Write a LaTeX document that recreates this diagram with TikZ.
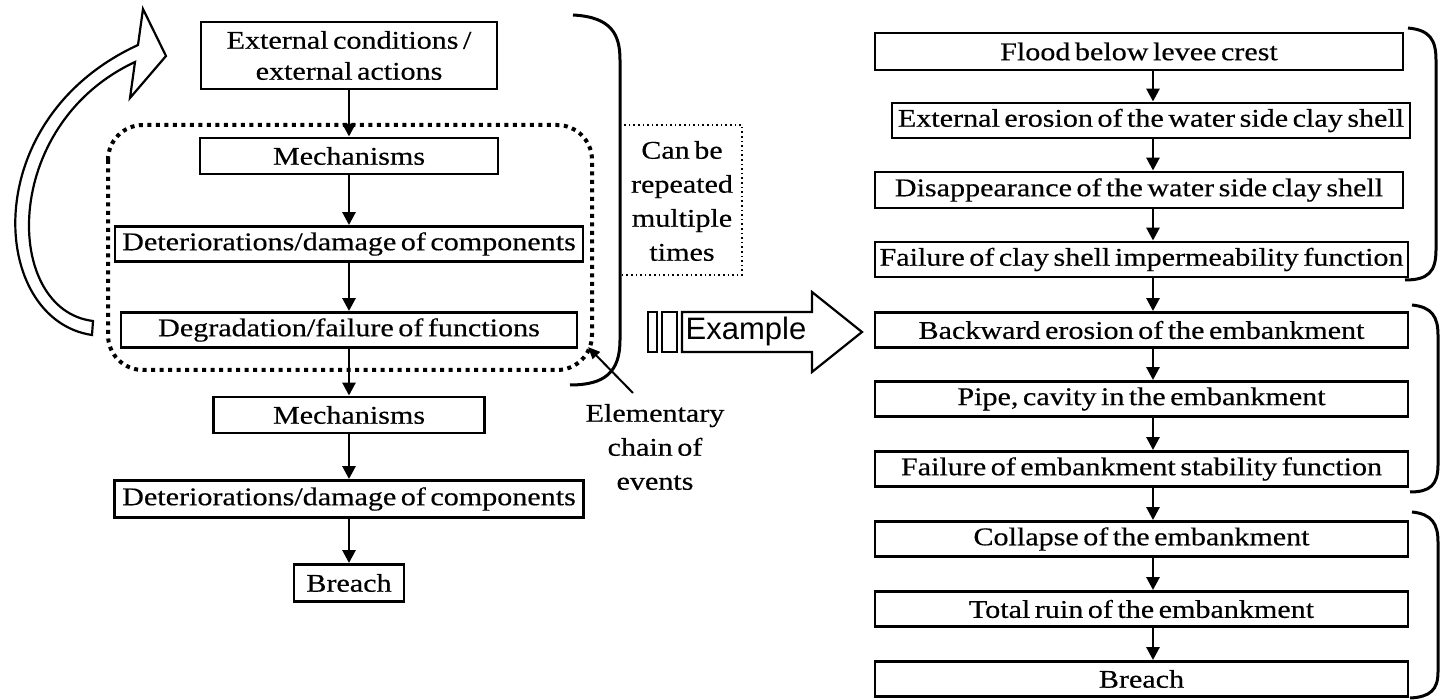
\documentclass[tikz,border=0pt]{standalone}
\usepackage{fontspec}
\setmainfont{Liberation Serif}[FakeStretch=1.18,WordSpace=0.6,FakeBold=0.4]
\newfontfamily\exfont{Liberation Sans}
\usetikzlibrary{arrows.meta}
\begin{document}
\begin{tikzpicture}[x=1pt,y=-1pt,
  box/.style={draw,line width=2.9pt,inner sep=0pt,font=\fontsize{25.5}{31}\selectfont,align=center},
  lbl/.style={inner sep=0pt,font=\fontsize{25.5}{34}\selectfont,align=center},
  arr/.style={line width=2.8pt,-{Triangle[length=13pt,width=13pt]}},
  thinarr/.style={line width=2pt,-{Triangle[length=12pt,width=10pt]}},
  brc/.style={line width=3pt},
  bigdots/.style={line width=4pt,dash pattern=on 4pt off 4.5pt,rounded corners=35pt},
  smalldots/.style={line width=1.6pt,dash pattern=on 1.6pt off 3pt},
  blockarr/.style={line width=2.2pt,fill=white,line join=miter}]
\useasboundingbox (0,0) rectangle (1444,700);
\fill[white] (0,0) rectangle (1444,700);

% ---------- left column ----------
\draw[bigdots] (108,125) rectangle (592,370);
\node[box,minimum width=296pt,minimum height=67pt] (ext) at (349,55.5) {External conditions /\\external actions};
\node[box,minimum width=298pt,minimum height=36pt] (mech1) at (349,156) {Mechanisms};
\node[box,minimum width=468pt,minimum height=35pt] (det1) at (349,244) {Deteriorations/damage of components};
\node[box,minimum width=456pt,minimum height=35pt] (deg1) at (349,330) {Degradation/failure of functions};
\node[box,minimum width=271pt,minimum height=36pt] (mech2) at (349,415) {Mechanisms};
\node[box,minimum width=469pt,minimum height=37pt] (det2) at (349,499) {Deteriorations/damage of components};
\node[box,minimum width=110pt,minimum height=37pt] (breach1) at (349,583) {Breach};

\draw[arr] (ext.south) -- (mech1.north);
\draw[arr] (mech1.south) -- (det1.north);
\draw[arr] (det1.south) -- (deg1.north);
\draw[arr] (deg1.south) -- (mech2.north);
\draw[arr] (mech2.south) -- (det2.north);
\draw[arr] (det2.south) -- (breach1.north);

% curved feedback block arrow
\draw[blockarr] (92,335) .. controls (-10,320) and (-25,120) .. (138,45)
  -- (143,9) -- (166,56) -- (130,98) -- (135,62)
  .. controls (0,125) and (3,310) .. (93,321) -- cycle;

% big bracket
\draw[smalldots] (620,125) rectangle (742,275);
\draw[brc] (573,15) .. controls (612,17) and (620,35) .. (620,60) -- (620,340)
  .. controls (620,372) and (605,385) .. (570,385);
\node[lbl] (rep) at (682,201) {Can be\\repeated\\multiple\\times};

\node[lbl] (elem) at (655,447) {Elementary\\chain of\\events};
\coordinate (etail) at (633,393);
\coordinate (ecorner) at (588,347);
\draw[thinarr] (etail) -- (ecorner);

% Example arrow
\draw[line width=2pt] (648,312) rectangle (657,352);
\draw[line width=2pt] (662,312) rectangle (677,352);
\draw[blockarr] (682,312) -- (812,312) -- (812,292) -- (862,332) -- (812,372) -- (812,352) -- (682,352) -- cycle;
\node[inner sep=0pt,font=\exfont\fontsize{31}{31}\selectfont] (ex) at (746,331) {Example};

% ---------- right column ----------
\node[box,minimum width=528pt,minimum height=37pt] (r1) at (1139,51.5) {Flood below levee crest};
\node[box,minimum width=518pt,minimum height=35pt] (r2) at (1151,120.5) {External erosion of the water side clay shell};
\node[box,minimum width=528pt,minimum height=36pt] (r3) at (1139,190) {Disappearance of the water side clay shell};
\node[box,minimum width=533pt,minimum height=35pt] (r4) at (1141.5,259.5) {Failure of clay shell impermeability function};
\node[box,minimum width=533pt,minimum height=35pt] (r5) at (1141.5,330) {Backward erosion of the embankment};
\node[box,minimum width=533pt,minimum height=35pt] (r6) at (1141.5,399) {Pipe, cavity in the embankment};
\node[box,minimum width=533pt,minimum height=35pt] (r7) at (1141.5,469) {Failure of embankment stability function};
\node[box,minimum width=533pt,minimum height=35pt] (r8) at (1141.5,539) {Collapse of the embankment};
\node[box,minimum width=533pt,minimum height=35pt] (r9) at (1141.5,609) {Total ruin of the embankment};
\node[box,minimum width=533pt,minimum height=35pt] (r10) at (1141.5,679) {Breach};

\coordinate (ax) at (1153,0);
\foreach \a/\b in {r1/r2,r2/r3,r3/r4,r4/r5,r5/r6,r6/r7,r7/r8,r8/r9,r9/r10}
  \draw[arr] (\a.south -| ax) -- (\b.north -| ax);

\draw[brc] (1408,28) .. controls (1430,30) and (1436,40) .. (1436,60) -- (1436,250)
  .. controls (1436,272) and (1428,280) .. (1405,280);
\draw[brc] (1412,305) .. controls (1432,307) and (1438,317) .. (1438,335) -- (1438,465)
  .. controls (1438,485) and (1430,492) .. (1410,492);
\draw[brc] (1412,512) .. controls (1432,514) and (1438,524) .. (1438,542) -- (1438,672)
  .. controls (1438,690) and (1430,697) .. (1410,698);
\end{tikzpicture}
\end{document}
